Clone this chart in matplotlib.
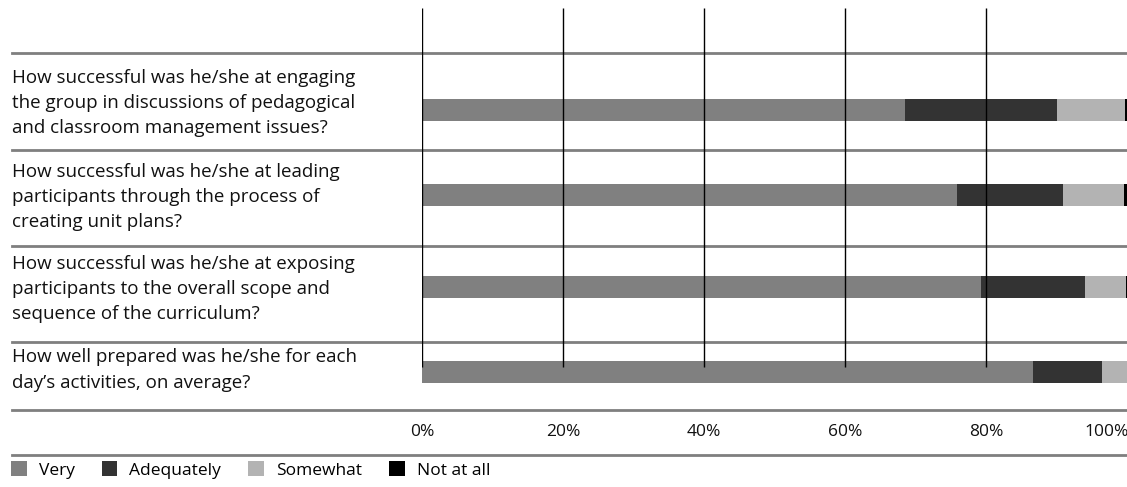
import matplotlib
matplotlib.use('Agg')
import matplotlib.pyplot as plt
from matplotlib.patches import Patch

plt.rcParams['font.family'] = ['Open Sans', 'DejaVu Sans']

questions = [
    "How successful was he/she at engaging\nthe group in discussions of pedagogical\nand classroom management issues?",
    "How successful was he/she at leading\nparticipants through the process of\ncreating unit plans?",
    "How successful was he/she at exposing\nparticipants to the overall scope and\nsequence of the curriculum?",
    "How well prepared was he/she for each\nday\u2019s activities, on average?",
]
series = ["Very", "Adequately", "Somewhat", "Not at all"]
very = [68.5, 75.9, 79.3, 86.7]
adequately = [21.5, 15.0, 14.8, 9.7]
somewhat = [9.7, 8.7, 5.7, 3.6]
not_at_all = [0.3, 0.4, 0.2, 0.0]
ticks = [0, 20, 40, 60, 80, 100]
colors = ["#808080", "#333333", "#b3b3b3", "#000000"]

# layout (pixel rows, figure is 1127 x 487)
W, H = 1127, 487
x0 = 422
bar_y = [109.5, 194.5, 286.5, 372]
text_y = [103, 197, 289, 370]
sep_y = [53, 150, 246, 342, 410, 455]

fig = plt.figure(figsize=(W / 100, H / 100), dpi=100)
ax = fig.add_axes([x0 / W, 0, (W - x0) / W, 1])
ax.set_xlim(0, 100)
ax.set_ylim(H, 0)
ax.axis('off')

left = [0.0] * len(questions)
for name, vals, c in zip(series, [very, adequately, somewhat, not_at_all], colors):
    ax.barh(bar_y, vals, left=left, height=22, color=c, label=name, zorder=2)
    left = [l + v for l, v in zip(left, vals)]

ax.vlines(ticks[:-1], 8, 367, color='black', lw=1, zorder=3)

xmin = (12 - x0) / (W - x0)
for y in sep_y:
    ax.axhline(y, xmin=xmin, xmax=1, color='#7f7f7f', lw=2, clip_on=False, zorder=1)

for q, y in zip(questions, text_y):
    ax.text(xmin, y, q, transform=ax.get_yaxis_transform(), ha='left', va='center',
            fontsize=13.5, linespacing=1.5, color='#111111')

for t in ticks:
    if t == 100:
        ax.text(t + 0.3, 432, f'{t}%', ha='right', va='center', fontsize=12.5, color='#111111')
    else:
        ax.text(t, 432, f'{t}%', ha='center', va='center', fontsize=12.5, color='#111111')

handles = [Patch(facecolor=c, edgecolor='none') for c in colors]
fig.legend(handles, series, loc='center left', bbox_to_anchor=(4 / W, 1 - 470 / H), ncol=4,
           frameon=False, handlelength=0.9, handleheight=0.9, handletextpad=0.7,
           columnspacing=1.55, fontsize=12.5, borderaxespad=0)

fig.savefig('out.png', dpi=100)
